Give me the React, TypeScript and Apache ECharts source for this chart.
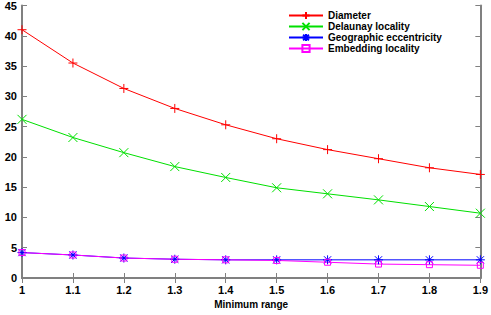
import React, { useEffect, useRef } from "react";
import * as echarts from "echarts";

const categories = ["1", "1.1", "1.2", "1.3", "1.4", "1.5", "1.6", "1.7", "1.8", "1.9"];
const diameter = [41.0, 35.5, 31.3, 28.0, 25.3, 23.0, 21.2, 19.7, 18.2, 17.1];
const delaunay = [26.2, 23.2, 20.7, 18.4, 16.6, 14.9, 13.9, 12.9, 11.8, 10.7];
const geographic = [4.2, 3.8, 3.3, 3.1, 3.0, 3.0, 3.0, 3.0, 3.0, 3.0];
const embedding = [4.2, 3.8, 3.3, 3.1, 3.0, 2.9, 2.6, 2.3, 2.2, 2.1];

const FONT = "'Liberation Sans', Arial, sans-serif";
const AXIS = "#808080";

export default function App() {
  const ref = useRef<HTMLDivElement>(null);
  useEffect(() => {
    if (!ref.current) return;
    const chart = echarts.init(ref.current, undefined, { renderer: "svg" });
    const label = { fontFamily: FONT, fontWeight: "bold", fontSize: 11, color: "#000" };
    const mk = (name: string, data: number[], color: string, symbol: string, size: number) => ({
      name,
      type: "line",
      data,
      symbol,
      symbolSize: size,
      showSymbol: true,
      lineStyle: { color, width: 1 },
      itemStyle: { color: "rgba(0,0,0,0)", borderColor: color, borderWidth: 1 },
      emphasis: { disabled: true },
    });
    chart.setOption({
      animation: false,
      grid: { left: 22, right: 10, top: 5, bottom: 37, containLabel: false },
      legend: {
        orient: "vertical",
        left: 288,
        top: 10,
        padding: 0,
        itemWidth: 34,
        itemHeight: 9,
        itemGap: 0,
        textStyle: { ...label, fontSize: 10, lineHeight: 11 },
        data: ["Diameter", "Delaunay locality", "Geographic eccentricity", "Embedding locality"],
      },
      xAxis: [
        {
          type: "category",
          data: categories,
          boundaryGap: false,
          axisLine: { lineStyle: { color: AXIS, width: 2 } },
          axisTick: { inside: true, length: 5, lineStyle: { color: AXIS, width: 1 } },
          axisLabel: { ...label, margin: 6 },
          name: "Minimum range",
          nameLocation: "middle",
          nameGap: 21,
          nameTextStyle: { ...label, fontSize: 10, verticalAlign: "top" },
        },
        {
          type: "category",
          data: categories,
          boundaryGap: false,
          position: "top",
          axisLine: { lineStyle: { color: AXIS, width: 2 } },
          axisTick: { inside: true, length: 5, lineStyle: { color: AXIS, width: 1 } },
          axisLabel: { show: false },
        },
      ],
      yAxis: [
        {
          type: "value",
          min: 0,
          max: 45,
          interval: 5,
          splitLine: { show: false },
          axisLine: { show: true, lineStyle: { color: AXIS, width: 2 } },
          axisTick: { show: true, inside: true, length: 5, lineStyle: { color: AXIS, width: 1 } },
          axisLabel: { ...label, margin: 5 },
        },
        {
          type: "value",
          min: 0,
          max: 45,
          interval: 5,
          position: "right",
          splitLine: { show: false },
          axisLine: { show: true, lineStyle: { color: AXIS, width: 2 } },
          axisTick: { show: true, inside: true, length: 5, lineStyle: { color: AXIS, width: 1 } },
          axisLabel: { show: false },
        },
      ],
      series: [
        mk("Diameter", diameter, "#ff0000", "path://M0,5L10,5M5,0L5,10", 9),
        mk("Delaunay locality", delaunay, "#00e000", "path://M0,0L10,10M0,10L10,0", 9),
        mk("Geographic eccentricity", geographic, "#0000ff", "path://M0,5L10,5M5,0L5,10M1,1L9,9M1,9L9,1", 9),
        mk("Embedding locality", embedding, "#ff00ff", "path://M0,0L10,0L10,10L0,10Z", 6),
      ],
    });
    return () => chart.dispose();
  }, []);
  return <div ref={ref} style={{ width: 491, height: 315, position: "absolute", left: 0, top: 0 }} />;
}
